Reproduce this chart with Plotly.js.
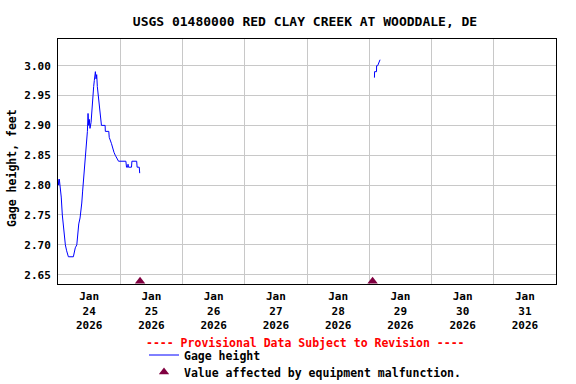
<!DOCTYPE html>
<html>
<head>
<meta charset="utf-8">
<script src="https://cdn.plot.ly/plotly-3.0.1.min.js"></script>
<style>html,body{margin:0;padding:0;background:#fff;}#chart{width:576px;height:384px;}</style>
</head>
<body>
<div id="chart"></div>
<script>
// Gage height readings (feet)
const gageTimes = [
  '2026-01-24 00:00','2026-01-24 00:15','2026-01-24 00:30','2026-01-24 00:45','2026-01-24 01:00',
  '2026-01-24 01:15','2026-01-24 01:40','2026-01-24 02:05','2026-01-24 02:25','2026-01-24 02:50',
  '2026-01-24 03:20','2026-01-24 04:00','2026-01-24 05:55','2026-01-24 06:15','2026-01-24 06:40',
  '2026-01-24 07:15','2026-01-24 07:35','2026-01-24 08:00','2026-01-24 08:30','2026-01-24 08:50',
  '2026-01-24 09:10','2026-01-24 09:30','2026-01-24 09:45','2026-01-24 10:10','2026-01-24 10:30',
  '2026-01-24 10:55','2026-01-24 11:20','2026-01-24 11:35','2026-01-24 11:50','2026-01-24 12:05',
  '2026-01-24 12:20','2026-01-24 12:45','2026-01-24 13:05','2026-01-24 13:25','2026-01-24 13:45',
  '2026-01-24 14:00','2026-01-24 14:25','2026-01-24 14:40','2026-01-24 14:55','2026-01-24 15:10',
  '2026-01-24 15:35','2026-01-24 15:50','2026-01-24 16:15','2026-01-24 16:30','2026-01-24 16:45',
  '2026-01-24 18:10','2026-01-24 18:15','2026-01-24 19:35','2026-01-24 19:45','2026-01-24 20:35',
  '2026-01-24 21:05','2026-01-24 21:35','2026-01-24 22:05','2026-01-24 22:35','2026-01-24 23:20',
  '2026-01-25 02:10','2026-01-25 02:25','2026-01-25 02:50','2026-01-25 03:00','2026-01-25 03:10',
  '2026-01-25 04:20','2026-01-25 04:30','2026-01-25 06:20','2026-01-25 06:30','2026-01-25 07:20',
  '2026-01-25 07:30',
  '2026-01-27 00:00',
  '2026-01-29 02:00','2026-01-29 02:03','2026-01-29 02:48','2026-01-29 02:50','2026-01-29 03:15',
  '2026-01-29 03:40','2026-01-29 04:10'
];
const gageHeight = [
  2.81, 2.80, 2.81, 2.80, 2.80,
  2.78, 2.75, 2.73, 2.72, 2.70,
  2.69, 2.68, 2.68, 2.69, 2.695,
  2.70, 2.72, 2.735, 2.745, 2.755,
  2.77, 2.79, 2.805, 2.83, 2.835,
  2.87, 2.89, 2.92, 2.90, 2.91,
  2.895, 2.905, 2.93, 2.95, 2.965,
  2.975, 2.99, 2.978, 2.985, 2.965,
  2.95, 2.935, 2.918, 2.91, 2.90,
  2.90, 2.89, 2.89, 2.88, 2.87,
  2.86, 2.855, 2.85, 2.845, 2.84,
  2.84, 2.83, 2.83, 2.835, 2.83,
  2.83, 2.84, 2.84, 2.83, 2.83,
  2.82,
  null,
  2.98, 2.99, 2.99, 3.00, 3.00,
  3.005, 3.01
];

// Equipment malfunction flags
const flagTimes = ['2026-01-25 07:38', '2026-01-29 01:17'];
const flagLevel = [2.639, 2.639];

// Axis ticks
const dayLabelTimes = ['2026-01-24 12:00','2026-01-25 12:00','2026-01-26 12:00','2026-01-27 12:00',
  '2026-01-28 12:00','2026-01-29 12:00','2026-01-30 12:00','2026-01-31 12:00'];
const dayLabels = ['Jan<br>24<br>2026','Jan<br>25<br>2026','Jan<br>26<br>2026','Jan<br>27<br>2026',
  'Jan<br>28<br>2026','Jan<br>29<br>2026','Jan<br>30<br>2026','Jan<br>31<br>2026'];
const dayGridTimes = ['2026-01-25','2026-01-26','2026-01-27','2026-01-28','2026-01-29','2026-01-30','2026-01-31'];
const yTickVals = [2.65, 2.70, 2.75, 2.80, 2.85, 2.90, 2.95, 3.00];
const yTickText = ['2.65','2.70','2.75','2.80','2.85','2.90','2.95','3.00'];

const FONT = 'DejaVu Sans Mono, Liberation Mono, monospace';
const W = 576, H = 384;

const traces = [
  {
    type: 'scatter', mode: 'lines', x: gageTimes, y: gageHeight,
    name: 'Gage height', connectgaps: false,
    line: {color: '#0000ff', width: 1},
    legend: 'legend'
  },
  {
    type: 'scatter', mode: 'markers', x: flagTimes, y: flagLevel,
    name: 'Value affected by equipment malfunction.',
    marker: {symbol: 'triangle-up', size: 9, color: '#800040'},
    cliponaxis: false,
    legend: 'legend2'
  }
];

const legendFont = {family: FONT, size: 11.5, color: '#000000', weight: 'bold'};

const layout = {
  width: W, height: H,
  margin: {l: 58, r: 20, t: 39, b: 100, pad: 0, autoexpand: false},
  paper_bgcolor: '#ffffff', plot_bgcolor: '#ffffff',
  font: {family: FONT, size: 11, color: '#000000', weight: 'bold'},
  title: {
    text: 'USGS 01480000 RED CLAY CREEK AT WOODDALE, DE',
    font: {family: FONT, size: 13, color: '#000000', weight: 'bold'},
    xref: 'container', yref: 'container', x: 305/W, y: 1 - 21/H,
    xanchor: 'center', yanchor: 'middle'
  },
  xaxis: {
    type: 'date', range: ['2026-01-24 00:00', '2026-02-01 00:00'],
    tickmode: 'array', tickvals: dayLabelTimes, ticktext: dayLabels,
    showgrid: false, ticks: '', zeroline: false,
    showline: true, mirror: true, linecolor: '#000000', linewidth: 1,
    tickfont: {family: FONT, size: 11, color: '#000000', weight: 'bold'},
    ticklabelstandoff: 2,
    minor: {tickmode: 'array', tickvals: dayGridTimes, showgrid: true, gridcolor: '#c8c8c8', gridwidth: 1, ticks: ''},
    automargin: false, fixedrange: true
  },
  yaxis: {
    range: [2.6344, 3.0447],
    tickmode: 'array', tickvals: yTickVals, ticktext: yTickText,
    showgrid: true, gridcolor: '#c8c8c8', gridwidth: 1, ticks: '', zeroline: false,
    showline: true, mirror: true, linecolor: '#000000', linewidth: 1,
    tickfont: {family: FONT, size: 11, color: '#000000', weight: 'bold'},
    ticklabelstandoff: 4,
    automargin: false, fixedrange: true
  },
  showlegend: true,
  legend: {
    x: 144 / W, y: 1 - 355 / H, xanchor: 'left', yanchor: 'middle',
    xref: 'container', yref: 'container', bgcolor: 'rgba(0,0,0,0)', borderwidth: 0,
    font: legendFont, itemwidth: 30
  },
  legend2: {
    x: 144 / W, y: 1 - 372 / H, xanchor: 'left', yanchor: 'middle',
    xref: 'container', yref: 'container', bgcolor: 'rgba(0,0,0,0)', borderwidth: 0,
    font: legendFont, itemwidth: 30
  },
  annotations: [
    {
      text: 'Gage height, feet', textangle: -90, showarrow: false,
      xref: 'paper', yref: 'paper', x: (12 - 58) / 498, y: (284 - 168) / 245,
      xanchor: 'center', yanchor: 'middle',
      font: {family: FONT, size: 11.5, color: '#000000', weight: 'bold'}
    },
    {
      text: '---- Provisional Data Subject to Revision ----', showarrow: false,
      xref: 'paper', yref: 'paper', x: (305 - 58) / 498, y: (284 - 343) / 245,
      xanchor: 'center', yanchor: 'middle',
      font: {family: FONT, size: 11.5, color: '#ff0000', weight: 'bold'}
    }
  ]
};

Plotly.newPlot('chart', traces, layout, {staticPlot: true, displayModeBar: false});
</script>
</body>
</html>
